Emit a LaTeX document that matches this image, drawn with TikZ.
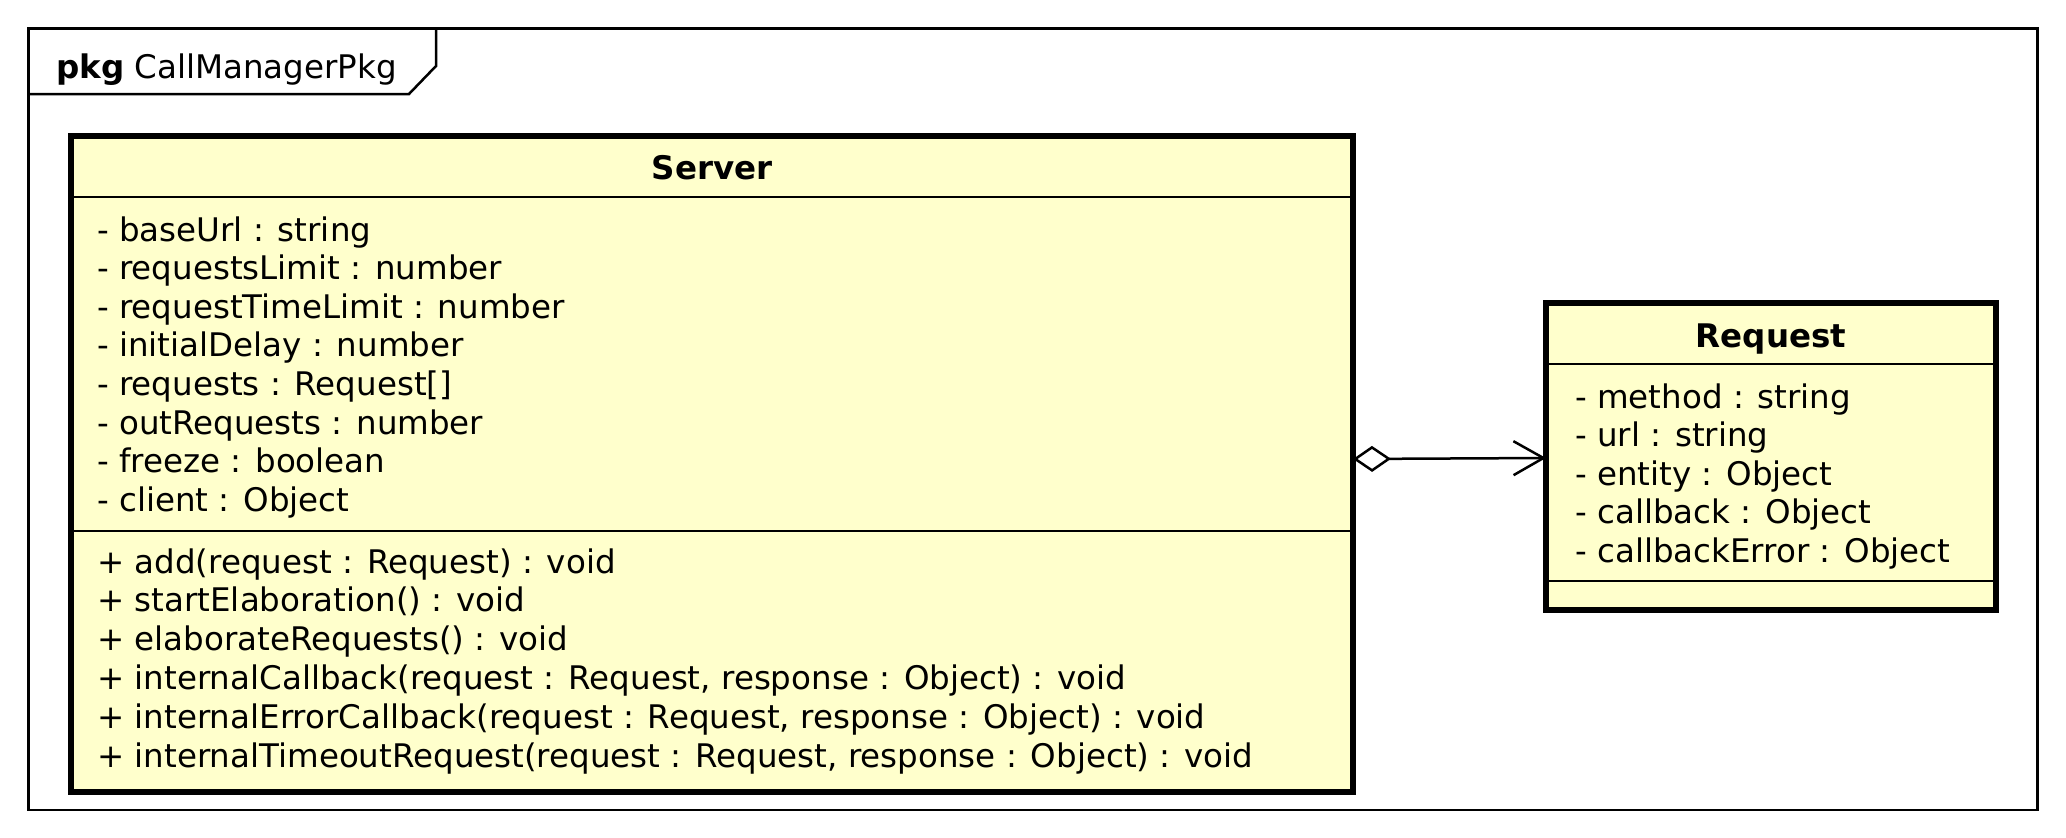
\documentclass[tikz,border=0pt]{standalone}
\usepackage{fontspec}
\setmainfont{DejaVu Sans}
\usetikzlibrary{arrows.meta}
\definecolor{classfill}{HTML}{FFFFCC}
\tikzset{
 classbox/.style={draw=black, line width=5.5bp, fill=classfill, inner sep=0pt, outer sep=0pt},
 sepline/.style={line width=2.5bp},
 frameline/.style={line width=2.5bp},
 txt/.style={anchor=base west, inner sep=0pt, font=\fontsize{32.5bp}{38bp}\selectfont},
 ttl/.style={anchor=base, inner sep=0pt, font=\fontsize{32.5bp}{38bp}\selectfont\bfseries},
 agg/.style={line width=2.5bp, {Diamond[open,length=38bp,width=26bp]}-{Straight Barb[length=30bp,width=34bp]}}
}
\begin{document}
\begin{tikzpicture}[x=1bp,y=-1bp]
\useasboundingbox (0,0) rectangle (2066,838);
% package frame
\draw[frameline] (28.5,28.5) rectangle (2037.5,810);
\draw[frameline] (28.5,94) -- (409,94) -- (436,66) -- (436,28.5);
\node[txt] (pkglbl) at (56,78) {\textbf{pkg} CallManagerPkg};
% Server class
\node[classbox, minimum width=1282bp, minimum height=656bp, anchor=north west] (server) at (71,136) {};
\draw[sepline] (server.west |- 0,197) -- (server.east |- 0,197);
\draw[sepline] (server.west |- 0,531) -- (server.east |- 0,531);
\node[ttl] (servertitle) at (server.north |- 0,179) {Server};
\foreach \t [count=\i] in {{- baseUrl : string},{- requestsLimit : number},{- requestTimeLimit : number},{- initialDelay : number},{- requests : Request[]},{- outRequests : number},{- freeze : boolean},{- client : Object}}
  \node[txt] (sa\i) at (97,{241+(\i-1)*38.6}) {\t};
\foreach \t [count=\i] in {{+ add(request : Request) : void},{+ startElaboration() : void},{+ elaborateRequests() : void},{+ internalCallback(request : Request, response : Object) : void},{+ internalErrorCallback(request : Request, response : Object) : void},{+ internalTimeoutRequest(request : Request, response : Object) : void}}
  \node[txt] (sm\i) at (97,{573+(\i-1)*38.8}) {\t};
% Request class
\node[classbox, minimum width=450bp, minimum height=307bp, anchor=north west] (request) at (1546,303) {};
\draw[sepline] (request.west |- 0,364) -- (request.east |- 0,364);
\draw[sepline] (request.west |- 0,581) -- (request.east |- 0,581);
\node[ttl] (requesttitle) at (request.north |- 0,347) {Request};
\foreach \t [count=\i] in {{- method : string},{- url : string},{- entity : Object},{- callback : Object},{- callbackError : Object}}
  \node[txt] (ra\i) at (1575,{408+(\i-1)*38.5}) {\t};
% aggregation
\coordinate (aggstart) at (server.east |- 0,459);
\coordinate (aggend) at (request.west |- 0,458);
\draw[agg] (aggstart) -- (aggend);
\end{tikzpicture}
\end{document}
